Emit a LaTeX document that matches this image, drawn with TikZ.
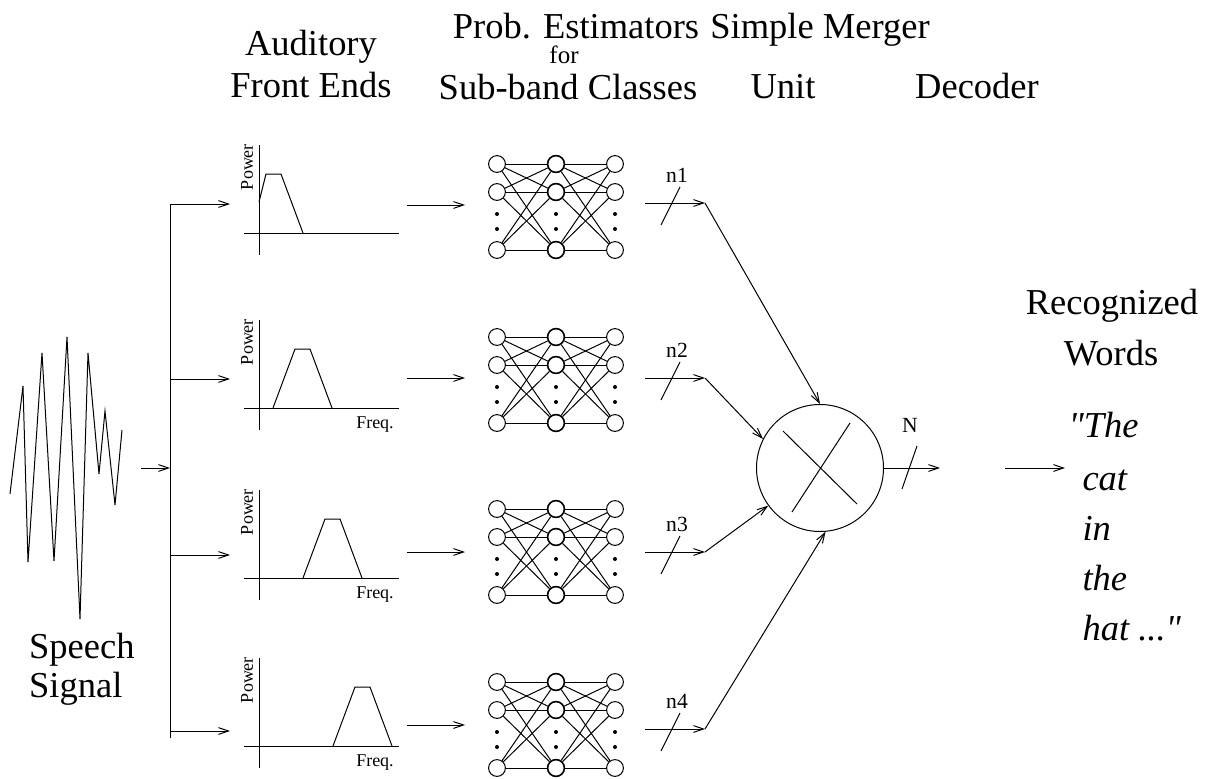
\documentclass[tikz,border=0pt]{standalone}
\usepackage{fontspec}
\setmainfont{Liberation Serif}
\usepackage{tikz}
\usetikzlibrary{shapes,arrows.meta,positioning,calc}

\tikzset{
    big/.style={font=\fontsize{18.25}{22}\selectfont},
    word/.style={font=\fontsize{18.25}{22}\selectfont\itshape, anchor=base west, inner sep=0pt},
    small/.style={font=\fontsize{9}{10}\selectfont},
    nlbl/.style={font=\fontsize{10.8}{12}\selectfont},
    unit/.style={draw, circle, line width=0.5pt, minimum size=8.4pt, inner sep=0pt},
    midunit/.style={unit, line width=0.8pt},
    dotnode/.style={fill, circle, minimum size=2pt, inner sep=0pt}
}

\begin{document}
\begin{tikzpicture}[x=0.5pt, y=-0.5pt, line width=0.5pt,
    >={Straight Barb[length=5pt,width=3.4pt]}]
    \useasboundingbox (0,0) rectangle (1207,778);

    % Headings
    \node[big, anchor=base] (h1a) at (311,55) {Auditory};
    \node[big, anchor=base] (h1b) at (311,97) {Front Ends};
    \node[big, anchor=base, inner sep=0pt] (h2a) at (576,38) {Prob. Estimators};
    \node[font=\fontsize{12.5}{13}\selectfont, anchor=base, inner sep=0pt] (h2b) at (564,63) {for};
    \node[big, anchor=base, inner sep=0pt] (h2c) at (568,99) {Sub-band Classes};
    \node[big, anchor=base] (h3a) at (820,38) {Simple Merger};
    \node[big, anchor=base] (h3b) at (783,98) {Unit};
    \node[big, anchor=base] (h4) at (977,98) {Decoder};

    % Speech signal
    \draw (10,494) -- (23,386) -- (28,562) -- (42,353) -- (54,561) -- (67,337)
        -- (80,619) -- (88,353) -- (99,474) -- (105,411) -- (115,505) -- (122,430);
    \node[big, anchor=base west] (sp1) at (22,658) {Speech};
    \node[big, anchor=base west] (sp2) at (22,697) {Signal};

    % Bus to the front ends
    \coordinate (sigend) at (141,468);
    \coordinate (busin) at (170,468);
    \coordinate (bustop) at (170,204);
    \coordinate (busbot) at (170,738);
    \draw[->] (sigend) -- (busin);
    \draw (bustop) -- (busbot);

    % Merger unit
    \node[draw, circle, minimum size=63.5pt, inner sep=0pt] (merge) at (820,468) {};
    \draw (783,431) -- (857,504);
    \draw (850,423) -- (792,512);

    % Sub-bands
    \foreach \r/\ax/\br/\ar/\nt/\oy/\ang in {1/233/204/205/164/203/90, 2/408/379/378/337/378/153,
                                          3/578/555/552/509/552/216, 4/746/731/725/682/729/275} {
        \coordinate (b\r) at (170,\br);
        \coordinate (g\r) at (230,\br);
        \draw[->] (b\r) -- (g\r);
        % power spectrum
        \draw (259,\ax-88) -- (259,\ax+22);
        \draw (244,\ax) -- (399,\ax);
        \node[small, rotate=90] (pw\r) at (247,\ax-66) {Power};
        \ifnum\r=1
            \draw (259,\ax-31) -- (266,\ax-59) -- (281,\ax-59) -- (303,\ax);
        \else
            \pgfmathsetmacro\L{213+30*\r}
            \draw (\L,\ax) -- (\L+22,\ax-59) -- (\L+37,\ax-59) -- (\L+59,\ax);
            \node[small] (fq\r) at (375,\ax+17) {Freq.};
        \fi
        \coordinate (go\r) at (407,\ar);
        \coordinate (ni\r) at (465,\ar);
        \draw[->] (go\r) -- (ni\r);
        % estimator net
        \foreach \c/\cx/\s in {1/497/unit, 2/556/midunit, 3/615/unit} {
            \foreach \k/\dy in {1/0, 2/28, 3/86}
                \node[\s] (n\r-\c-\k) at (\cx,\nt+\dy) {};
            \node[dotnode] (d\r-\c-1) at (\cx,\nt+50) {};
            \node[dotnode] (d\r-\c-2) at (\cx,\nt+65) {};
        }
        \foreach \a in {1,2,3}
            \foreach \b in {1,2,3} {
                \draw (n\r-1-\a) -- (n\r-2-\b);
                \draw (n\r-2-\a) -- (n\r-3-\b);
            }
        % outputs
        \coordinate (no\r) at (645,\oy);
        \coordinate (bd\r) at (705,\oy);
        \draw[->] (no\r) -- (bd\r);
        \draw (661,\oy+22) -- (680,\oy-16);
        \node[nlbl] (lb\r) at (677,\oy-28) {n\r};
        \draw[->] (bd\r) -- (merge.\ang);
    }

    % Decoder output
    \coordinate (mout) at (940,468);
    \draw[->] (merge.east) -- (mout);
    \draw (902,489) -- (917,446);
    \node[nlbl] (nN) at (910,425) {N};
    \coordinate (dec1) at (1005,468);
    \coordinate (dec2) at (1065,468);
    \draw[->] (dec1) -- (dec2);

    % Recognized words
    \node[big, anchor=base] (rw1) at (1112,314) {Recognized};
    \node[big, anchor=base] (rw2) at (1111,365) {Words};
    \node[word] (w1) at (1068,437) {\textquotedbl The};
    \node[word] (w2) at (1082,490) {cat};
    \node[word] (w3) at (1082,540) {in};
    \node[word] (w4) at (1082,590) {the};
    \node[word] (w5) at (1082,640) {hat ...\textquotedbl};
\end{tikzpicture}
\end{document}
